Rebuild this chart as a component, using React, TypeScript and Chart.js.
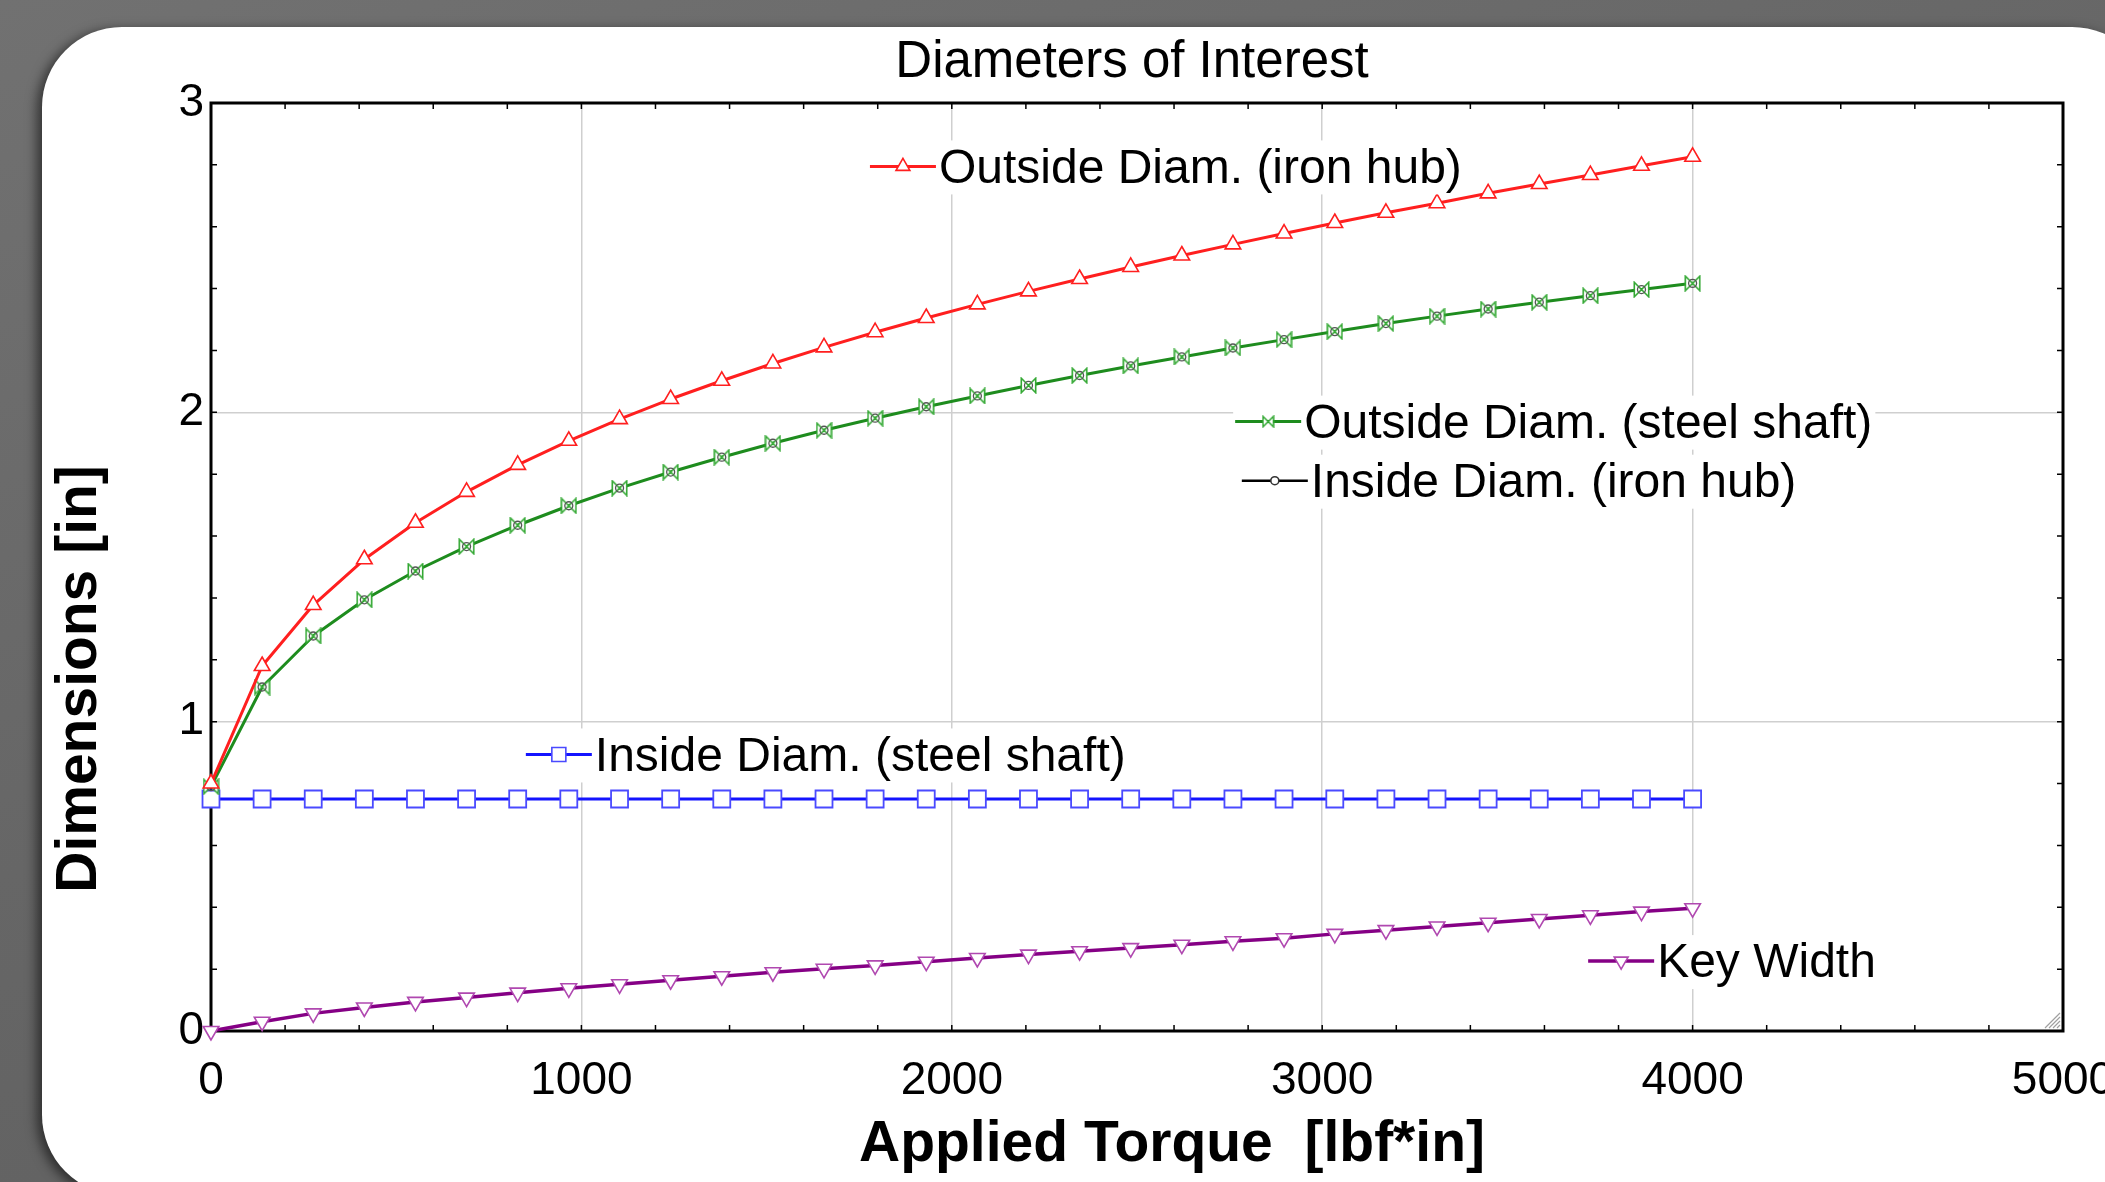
import React, { useEffect, useRef } from "react";
import { Chart, registerables } from "chart.js";

Chart.register(...registerables);

// ---------- data ----------
const torque = [0, 138, 276, 414, 552, 690, 828, 966, 1103, 1241, 1379, 1517, 1655, 1793, 1931, 2069, 2207, 2345, 2483, 2621, 2759, 2897, 3034, 3172, 3310, 3448, 3586, 3724, 3862, 4000];

const outsideIronHub = [0.80, 1.18, 1.377, 1.525, 1.643, 1.743, 1.830, 1.908, 1.978, 2.043, 2.102, 2.158, 2.210, 2.259, 2.305, 2.349, 2.391, 2.431, 2.470, 2.507, 2.543, 2.578, 2.612, 2.645, 2.676, 2.708, 2.738, 2.767, 2.797, 2.826];

const outsideSteelShaft = [0.79, 1.112, 1.277, 1.394, 1.487, 1.566, 1.635, 1.698, 1.755, 1.807, 1.855, 1.900, 1.942, 1.981, 2.018, 2.053, 2.087, 2.119, 2.150, 2.179, 2.208, 2.235, 2.261, 2.287, 2.311, 2.334, 2.356, 2.377, 2.397, 2.417];

const insideIronHub = [0.79, 1.112, 1.277, 1.394, 1.487, 1.566, 1.635, 1.698, 1.755, 1.807, 1.855, 1.900, 1.942, 1.981, 2.018, 2.053, 2.087, 2.119, 2.150, 2.179, 2.208, 2.235, 2.261, 2.287, 2.311, 2.334, 2.356, 2.377, 2.397, 2.417];

const insideSteelShaft = [0.75, 0.75, 0.75, 0.75, 0.75, 0.75, 0.75, 0.75, 0.75, 0.75, 0.75, 0.75, 0.75, 0.75, 0.75, 0.75, 0.75, 0.75, 0.75, 0.75, 0.75, 0.75, 0.75, 0.75, 0.75, 0.75, 0.75, 0.75, 0.75, 0.75];

const keyWidth = [0, 0.03, 0.057, 0.076, 0.094, 0.108, 0.124, 0.138, 0.151, 0.164, 0.177, 0.19, 0.201, 0.212, 0.224, 0.236, 0.247, 0.258, 0.268, 0.279, 0.29, 0.30, 0.314, 0.326, 0.338, 0.350, 0.362, 0.374, 0.386, 0.397];

const seriesLabels = [
  "Outside Diam. (iron hub)",
  "Outside Diam. (steel shaft)",
  "Inside Diam. (iron hub)",
  "Inside Diam. (steel shaft)",
  "Key Width",
];

const xTickValues = [0, 1000, 2000, 3000, 4000, 5000];
const yTickValues = [0, 1, 2, 3];

const chartTitle = "Diameters of Interest";
const xAxisTitle = "Applied Torque  [lbf*in]";
const yAxisTitle = "Dimensions [in]";

// ---------- styling ----------
const FONT = "'Liberation Sans', Arial, Helvetica, sans-serif";

const RED = "#ff1f1f";
const GREEN_LINE = "#1e8c1e";
const GREEN_MARK = "#33a833";
const BLUE_LINE = "#1414ff";
const BLUE_MARK = "#4a4aff";
const PURPLE_LINE = "#850085";
const PURPLE_MARK = "#b048b0";

function makeBowtie(size: number, color: string, lw: number) {
  const c = document.createElement("canvas");
  c.width = size;
  c.height = size;
  const ctx = c.getContext("2d")!;
  const p = lw / 2 + 0.5;
  const q = size - p;
  ctx.beginPath();
  ctx.moveTo(p, p);
  ctx.lineTo(q, q);
  ctx.lineTo(q, p);
  ctx.lineTo(p, q);
  ctx.closePath();
  ctx.fillStyle = "#ffffff";
  ctx.fill();
  ctx.strokeStyle = color;
  ctx.lineWidth = lw;
  ctx.stroke();
  return c;
}

// legend placement in data coordinates (line start), plugin config only
const legendPlacement = [
  { ds: 0, x: 1779, y: 2.795 },
  { ds: 1, x: 2765, y: 1.970 },
  { ds: 2, x: 2783, y: 1.779 },
  { ds: 3, x: 850, y: 0.894 },
  { ds: 4, x: 3718, y: 0.226 },
];

function drawMarker(ctx: CanvasRenderingContext2D, kind: string, x: number, y: number, color: string, img?: HTMLCanvasElement) {
  ctx.save();
  ctx.lineWidth = 1.6;
  ctx.strokeStyle = color;
  ctx.fillStyle = "#fff";
  ctx.beginPath();
  if (kind === "tri") {
    const r = 8;
    ctx.moveTo(x, y - r);
    ctx.lineTo(x + r * 0.866, y + r * 0.5);
    ctx.lineTo(x - r * 0.866, y + r * 0.5);
    ctx.closePath();
  } else if (kind === "tridown") {
    const r = 8;
    ctx.moveTo(x, y + r);
    ctx.lineTo(x + r * 0.866, y - r * 0.5);
    ctx.lineTo(x - r * 0.866, y - r * 0.5);
    ctx.closePath();
  } else if (kind === "rect") {
    ctx.rect(x - 7, y - 7, 14, 14);
  } else if (kind === "circle") {
    ctx.arc(x, y, 4, 0, Math.PI * 2);
  }
  if (kind === "img" && img) {
    ctx.drawImage(img, x - img.width / 2, y - img.height / 2);
  } else {
    ctx.fill();
    ctx.stroke();
  }
  ctx.restore();
}

export default function App() {
  const canvasRef = useRef<HTMLCanvasElement | null>(null);

  useEffect(() => {
    const canvas = canvasRef.current;
    if (!canvas) return;

    const bowtie = makeBowtie(17, GREEN_MARK, 1.6);
    const bowtieSmall = makeBowtie(13, GREEN_MARK, 1.5);

    const toXY = (arr: number[]) => torque.map((t, i) => ({ x: t, y: arr[i] }));

    const legendInfo = [
      { color: RED, lw: 3, kind: "tri" },
      { color: GREEN_LINE, lw: 3, kind: "img", img: bowtieSmall },
      { color: "#000", lw: 2.5, kind: "circle" },
      { color: BLUE_LINE, lw: 3, kind: "rect" },
      { color: PURPLE_LINE, lw: 3.5, kind: "tridown" },
    ];

    const decor = {
      id: "decor",
      beforeDatasetsDraw(chart: any) {
        const { ctx, chartArea: a } = chart;
        const xs = chart.scales.x;
        const ys = chart.scales.y;
        ctx.save();
        // minor ticks
        ctx.strokeStyle = "#000";
        ctx.lineWidth = 1.5;
        ctx.beginPath();
        for (let v = 200; v < 5000; v += 200) {
          const px = xs.getPixelForValue(v);
          ctx.moveTo(px, a.bottom);
          ctx.lineTo(px, a.bottom - 6);
          ctx.moveTo(px, a.top);
          ctx.lineTo(px, a.top + 6);
        }
        for (let k = 1; k < 15; k++) {
          const py = ys.getPixelForValue(k * 0.2);
          ctx.moveTo(a.left, py);
          ctx.lineTo(a.left + 6, py);
          ctx.moveTo(a.right, py);
          ctx.lineTo(a.right - 6, py);
        }
        ctx.stroke();
        // resize grip
        ctx.strokeStyle = "#a0a0a0";
        ctx.lineWidth = 1.2;
        ctx.beginPath();
        for (let i = 0; i < 4; i++) {
          const d = 6 + i * 4;
          ctx.moveTo(a.right - 3, a.bottom - d);
          ctx.lineTo(a.right - d, a.bottom - 3);
        }
        ctx.stroke();
        // frame
        ctx.strokeStyle = "#000";
        ctx.lineWidth = 3;
        ctx.strokeRect(a.left, a.top, a.right - a.left, a.bottom - a.top);
        ctx.restore();
      },
      afterDatasetsDraw(chart: any) {
        const { ctx } = chart;
        const xs = chart.scales.x;
        const ys = chart.scales.y;
        ctx.save();
        ctx.font = `48px ${FONT}`;
        ctx.textBaseline = "middle";
        legendPlacement.forEach((p) => {
          const info = legendInfo[p.ds];
          const label = seriesLabels[p.ds];
          const x0 = xs.getPixelForValue(p.x);
          const y0 = ys.getPixelForValue(p.y);
          const lineLen = 66;
          const tw = ctx.measureText(label).width;
          ctx.fillStyle = "#fff";
          ctx.fillRect(x0 - 2, y0 - 26, lineLen + 4 + tw + 4, 54);
          ctx.strokeStyle = info.color;
          ctx.lineWidth = info.lw;
          ctx.beginPath();
          ctx.moveTo(x0, y0);
          ctx.lineTo(x0 + lineLen, y0);
          ctx.stroke();
          const mc = p.ds === 0 ? RED : p.ds === 3 ? BLUE_MARK : p.ds === 4 ? PURPLE_MARK : p.ds === 2 ? "#333" : GREEN_MARK;
          drawMarker(ctx, info.kind, x0 + lineLen / 2, y0, mc, (info as any).img);
          ctx.fillStyle = "#000";
          ctx.textAlign = "left";
          ctx.fillText(label, x0 + lineLen + 3, y0 + 3);
        });
        ctx.restore();
      },
      afterDraw(chart: any) {
        const { ctx } = chart;
        ctx.save();
        ctx.fillStyle = "#000";
        ctx.textAlign = "center";
        ctx.textBaseline = "middle";
        ctx.font = `51px ${FONT}`;
        ctx.fillText(chartTitle, 1132, 63);
        ctx.font = `bold 57px ${FONT}`;
        ctx.fillText(xAxisTitle, 1172, 1145);
        ctx.translate(80, 679);
        ctx.rotate(-Math.PI / 2);
        ctx.fillText(yAxisTitle, 0, 0);
        ctx.restore();
      },
    };

    const chart = new Chart(canvas, {
      type: "line",
      data: {
        datasets: [
          {
            label: seriesLabels[0],
            data: toXY(outsideIronHub),
            borderColor: RED,
            borderWidth: 3,
            pointStyle: "triangle",
            pointRadius: 9,
            pointBorderWidth: 1.6,
            pointBorderColor: RED,
            pointBackgroundColor: "#fff",
            tension: 0,
            clip: false,
          },
          {
            label: seriesLabels[2],
            data: toXY(insideIronHub),
            borderColor: "#000",
            borderWidth: 2.5,
            showLine: false,
            pointStyle: "circle",
            pointRadius: 4,
            pointBorderWidth: 1.3,
            pointBorderColor: "#555",
            pointBackgroundColor: "rgba(255,255,255,0)",
            clip: false,
          },
          {
            label: seriesLabels[1],
            data: toXY(outsideSteelShaft),
            borderColor: GREEN_LINE,
            borderWidth: 3,
            pointStyle: bowtie,
            pointRadius: 9,
            tension: 0,
            clip: false,
          },
          {
            label: seriesLabels[3],
            data: toXY(insideSteelShaft),
            borderColor: BLUE_LINE,
            borderWidth: 3,
            pointStyle: "rect",
            pointRadius: 12,
            pointBorderWidth: 1.8,
            pointBorderColor: BLUE_MARK,
            pointBackgroundColor: "#fff",
            tension: 0,
            clip: false,
          },
          {
            label: seriesLabels[4],
            data: toXY(keyWidth),
            borderColor: PURPLE_LINE,
            borderWidth: 3.5,
            pointStyle: "triangle",
            rotation: 180,
            pointRotation: 180,
            pointRadius: 9,
            pointBorderWidth: 1.6,
            pointBorderColor: PURPLE_MARK,
            pointBackgroundColor: "#fff",
            tension: 0,
            clip: false,
          },
        ] as any,
      },
      options: {
        animation: false,
        responsive: false,
        devicePixelRatio: 1,
        layout: { padding: { left: 0, top: 103, right: 42, bottom: 0 } },
        plugins: {
          legend: { display: false },
          tooltip: { enabled: false },
          title: { display: false },
        },
        elements: { line: { borderJoinStyle: "round" } as any },
        scales: {
          x: {
            type: "linear",
            min: 0,
            max: 5000,
            border: { display: false },
            grid: {
              color: "#cfcfcf",
              lineWidth: 1.5,
              drawTicks: false,
            },
            ticks: {
              color: "#000",
              font: { family: FONT, size: 46 },
              padding: 23,
              maxRotation: 0,
              autoSkip: false,
              callback: (v: any) => String(v),
            },
            afterBuildTicks: (s: any) => {
              s.ticks = xTickValues.map((v) => ({ value: v }));
            },
            afterFit: (s: any) => {
              s.height = 151;
              s.paddingLeft = 0;
              s.paddingRight = 0;
              s.paddingTop = 0;
              s.paddingBottom = 0;
            },
          },
          y: {
            type: "linear",
            min: 0,
            max: 3,
            border: { display: false },
            grid: {
              color: "#cfcfcf",
              lineWidth: 1.5,
              drawTicks: false,
            },
            ticks: {
              color: "#000",
              font: { family: FONT, size: 46 },
              padding: 7,
              autoSkip: false,
              callback: (v: any) => String(v),
            },
            afterBuildTicks: (s: any) => {
              s.ticks = yTickValues.map((v) => ({ value: v }));
            },
            afterFit: (s: any) => {
              s.width = 211;
              s.paddingLeft = 0;
              s.paddingRight = 0;
              s.paddingTop = 0;
              s.paddingBottom = 0;
            },
          },
        },
      } as any,
      plugins: [decor],
    });

    return () => chart.destroy();
  }, []);

  return (
    <div
      style={{
        position: "fixed",
        left: 0,
        top: 0,
        width: 2105,
        height: 1182,
        overflow: "hidden",
        background: "linear-gradient(160deg, #717171 0%, #666666 45%, #5c5c5c 100%)",
      }}
    >
      <div
        style={{
          position: "absolute",
          left: 42,
          top: 27,
          width: 2110,
          height: 1168,
          background: "#ffffff",
          borderRadius: 80,
          boxShadow: "-5px 3px 12px rgba(0,0,0,0.55)",
        }}
      />
      <canvas
        ref={canvasRef}
        width={2105}
        height={1182}
        style={{ position: "absolute", left: 0, top: 0, width: 2105, height: 1182 }}
      />
    </div>
  );
}
